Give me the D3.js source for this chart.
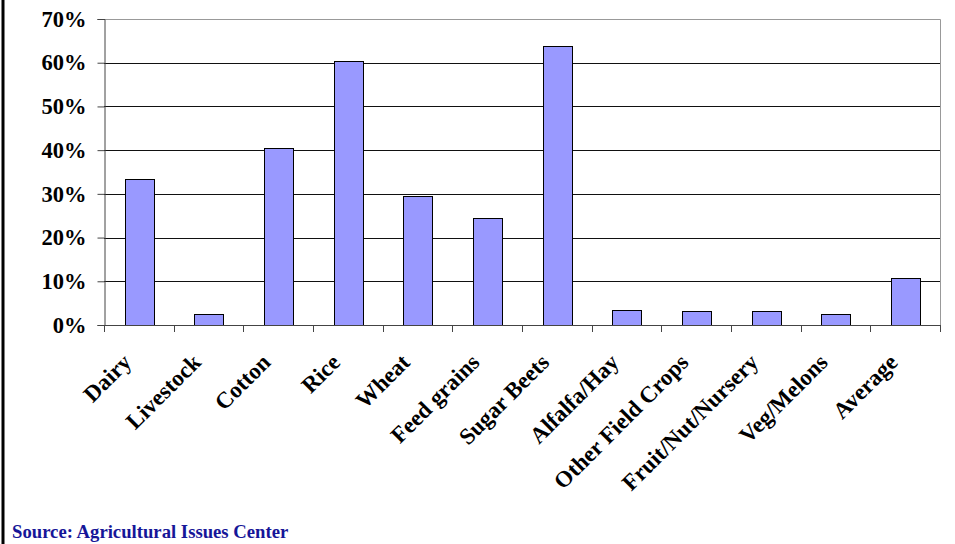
<!DOCTYPE html>
<html>
<head>
<meta charset="utf-8">
<script src="https://cdn.jsdelivr.net/npm/d3@7"></script>
<style>
  html, body { margin: 0; padding: 0; background: #fff; }
  svg { display: block; }
</style>
</head>
<body>
<svg id="chart" width="955" height="544"></svg>
<script>
// Share of production by commodity
const categories = ["Dairy", "Livestock", "Cotton", "Rice", "Wheat", "Feed grains",
  "Sugar Beets", "Alfalfa/Hay", "Other Field Crops", "Fruit/Nut/Nursery", "Veg/Melons", "Average"];
const values = [33.4, 2.5, 40.5, 60.4, 29.5, 24.5, 63.8, 3.4, 3.1, 3.1, 2.5, 10.7];
const yTicks = [0, 10, 20, 30, 40, 50, 60, 70];
const sourceText = "Source: Agricultural Issues Center";

const svg = d3.select("#chart");
const font = "'Liberation Serif', 'Times New Roman', serif";

const plot = { left: 104, right: 940, top: 19, bottom: 325 };

const x = d3.scaleBand()
  .domain(categories)
  .range([plot.left, plot.right])
  .paddingInner(0)
  .paddingOuter(0);

const y = d3.scaleLinear()
  .domain([0, 70])
  .range([plot.bottom, plot.top]);

// Left frame rule
svg.append("line")
  .attr("x1", 3).attr("x2", 3)
  .attr("y1", 0).attr("y2", 544)
  .attr("stroke", "#000").attr("stroke-width", 3);

// Horizontal gridlines
svg.append("g")
  .selectAll("line")
  .data(yTicks.filter(d => d > 0 && d < 70))
  .join("line")
  .attr("x1", plot.left).attr("x2", plot.right)
  .attr("y1", d => Math.round(y(d)) + 0.5).attr("y2", d => Math.round(y(d)) + 0.5)
  .attr("stroke", "#111").attr("stroke-width", 1);

// Plot border (top and right)
svg.append("path")
  .attr("d", `M${plot.left},${plot.top + 0.5}H${plot.right + 0.5}V${plot.bottom}`)
  .attr("fill", "none")
  .attr("stroke", "#999").attr("stroke-width", 1);

// Bars
const bw = x.bandwidth() * 0.41;
svg.append("g")
  .selectAll("rect")
  .data(categories.map((c, i) => ({ c, v: values[i] })))
  .join("rect")
  .attr("x", d => Math.round(x(d.c) + x.bandwidth() / 2 - bw / 2) + 0.5)
  .attr("y", d => Math.round(y(d.v)) + 0.5)
  .attr("width", Math.round(bw))
  .attr("height", d => Math.round(y(0)) - Math.round(y(d.v)))
  .attr("fill", "#9999ff")
  .attr("stroke", "#000")
  .attr("stroke-width", 1);

// Y axis
const yAxis = d3.axisLeft(y)
  .tickValues(yTicks)
  .tickFormat(d => d + "%")
  .tickSize(7)
  .tickPadding(11);

const gy = svg.append("g")
  .attr("transform", `translate(${plot.left + 0.5},0)`)
  .call(yAxis);
gy.select(".domain").attr("stroke", "#444");
gy.selectAll(".tick line").attr("stroke", "#444");
gy.selectAll(".tick text")
  .attr("font-family", font)
  .attr("font-weight", "bold")
  .attr("font-size", 22.5)
  .attr("fill", "#000");

// X axis: ticks at category boundaries
const gx = svg.append("g");
gx.append("line")
  .attr("x1", plot.left).attr("x2", plot.right)
  .attr("y1", Math.round(y(0)) + 0.5).attr("y2", Math.round(y(0)) + 0.5)
  .attr("stroke", "#444");
const bounds = categories.map(c => x(c)).concat([plot.right]);
gx.selectAll("line.tk")
  .data(bounds)
  .join("line")
  .attr("class", "tk")
  .attr("x1", d => Math.round(d) + 0.5).attr("x2", d => Math.round(d) + 0.5)
  .attr("y1", Math.round(y(0))).attr("y2", Math.round(y(0)) + 7)
  .attr("stroke", "#444");

gx.selectAll("text")
  .data(categories)
  .join("text")
  .attr("transform", d => `translate(${x(d) + x.bandwidth() / 2 - 12},${plot.bottom + 33}) rotate(-45)`)
  .attr("text-anchor", "end")
  .attr("dy", "0.35em")
  .attr("font-family", font)
  .attr("font-weight", "bold")
  .attr("font-size", 23)
  .attr("fill", "#000")
  .text(d => d);

// Source note
svg.append("text")
  .attr("x", 12)
  .attr("y", 538)
  .attr("font-family", font)
  .attr("font-weight", "bold")
  .attr("font-size", 18.7)
  .attr("fill", "#161698")
  .text(sourceText);
</script>
</body>
</html>
